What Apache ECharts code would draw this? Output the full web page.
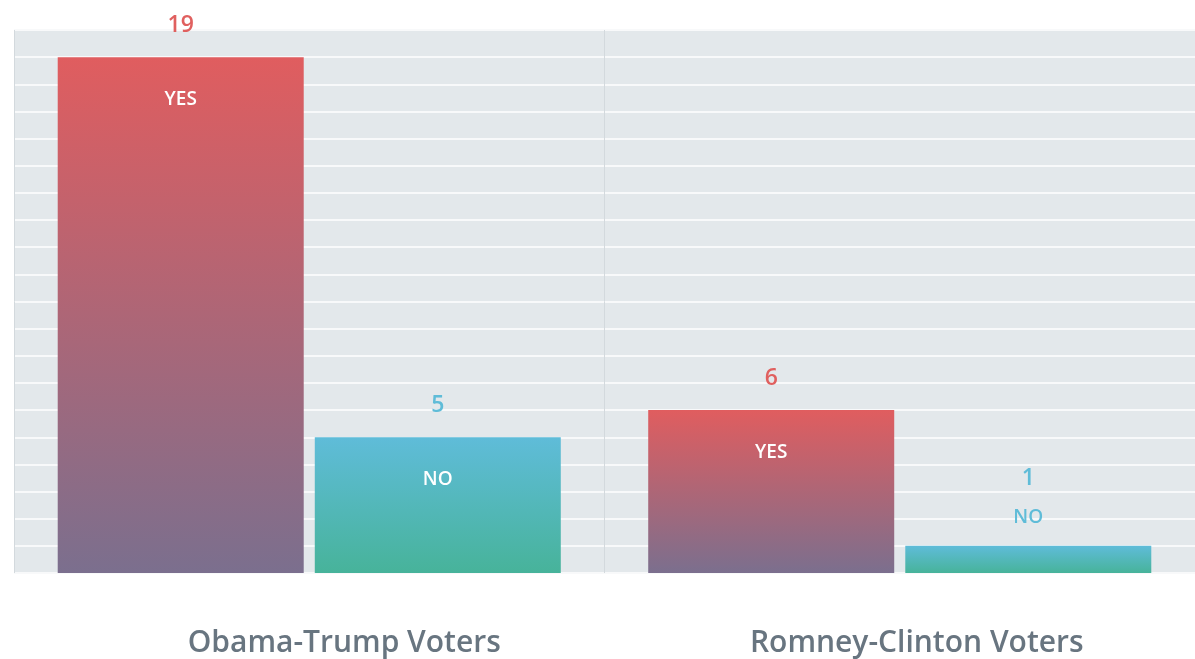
<!DOCTYPE html>
<html>
<head>
<meta charset="utf-8">
<script src="https://cdn.jsdelivr.net/npm/echarts@6/dist/echarts.min.js"></script>
<style>
  html, body { margin: 0; padding: 0; background: #fff; }
  #chart { width: 1195px; height: 659px; }
</style>
</head>
<body>
<div id="chart"></div>
<script>
var categories = ['Obama-Trump Voters', 'Romney-Clinton Voters'];
var yesValues = [19, 6];
var noValues = [5, 1];
var yesName = 'YES';
var noName = 'NO';

const red = '#e0605f';
const blue = '#5fbcd8';
const font = '"Open Sans", "Noto Sans", sans-serif';

function grad(top, bottom) {
  return new echarts.graphic.LinearGradient(0, 0, 0, 1, [
    {offset: 0, color: top},
    {offset: 1, color: bottom}
  ]);
}

var innerLabel = {
  show: true,
  position: 'insideTop',
  distance: 33,
  color: '#fff',
  fontSize: 19,
  fontWeight: 600,
  fontFamily: font
};

// NO bar of 1 is too short, its label sits above it
var noData = noValues.map(function (v) {
  if (v < 2) {
    return {value: v, label: {position: 'top', distance: 19, color: blue}};
  }
  return v;
});

var valueLabel = {show: true, position: 'top', distance: 20, fontSize: 23, fontWeight: 600, fontFamily: font};

var chart = echarts.init(document.getElementById('chart'));
chart.setOption({
  animation: false,
  grid: {
    left: 14, right: -7, top: 30, bottom: 86,
    show: true,
    backgroundColor: '#e3e8eb',
    borderWidth: 0
  },
  xAxis: [{
    type: 'category',
    data: categories,
    axisLine: {show: false},
    axisTick: {show: false},
    splitLine: {show: true, lineStyle: {color: '#d3d9dd', width: 1}},
    axisLabel: {
      margin: 55,
      color: '#687580',
      fontSize: 30,
      fontWeight: 600,
      fontFamily: font,
      // labels in the source sit a bit right of the bar groups
      formatter: function (v, i) {
        return '{c' + i + '|' + v + '}';
      },
      rich: {
        c0: {padding: [0, 0, 0, 70]},
        c1: {padding: [0, 0, 0, 34]}
      }
    }
  }, {
    type: 'category',
    data: categories,
    show: false
  }],
  yAxis: {
    type: 'value',
    min: 0, max: 20, interval: 1,
    axisLine: {show: false},
    axisTick: {show: false},
    axisLabel: {show: false},
    splitLine: {show: true, lineStyle: {color: '#f8f9fa', width: 2}}
  },
  series: [
    {
      name: yesName, type: 'bar', barWidth: 246, barGap: '4.5%',
      data: yesValues,
      itemStyle: {color: grad('#e05d5f', '#7b6f8e')},
      label: Object.assign({}, innerLabel, {formatter: yesName})
    },
    {
      name: noName, type: 'bar', barWidth: 246, barGap: '4.5%',
      data: noData,
      itemStyle: {color: grad('#5fbcd9', '#47b39a')},
      label: Object.assign({}, innerLabel, {formatter: noName})
    },
    // value labels on top, on a hidden second x axis so bars line up
    {
      type: 'bar', xAxisIndex: 1, barWidth: 246, barGap: '4.5%',
      data: yesValues,
      itemStyle: {color: 'rgba(0,0,0,0)'},
      label: Object.assign({}, valueLabel, {color: red})
    },
    {
      type: 'bar', xAxisIndex: 1, barWidth: 246, barGap: '4.5%',
      data: noValues.map(function (v) {
        return v < 2 ? {value: v, label: {distance: 56}} : v;
      }),
      itemStyle: {color: 'rgba(0,0,0,0)'},
      label: Object.assign({}, valueLabel, {color: blue})
    }
  ]
});
</script>
</body>
</html>
